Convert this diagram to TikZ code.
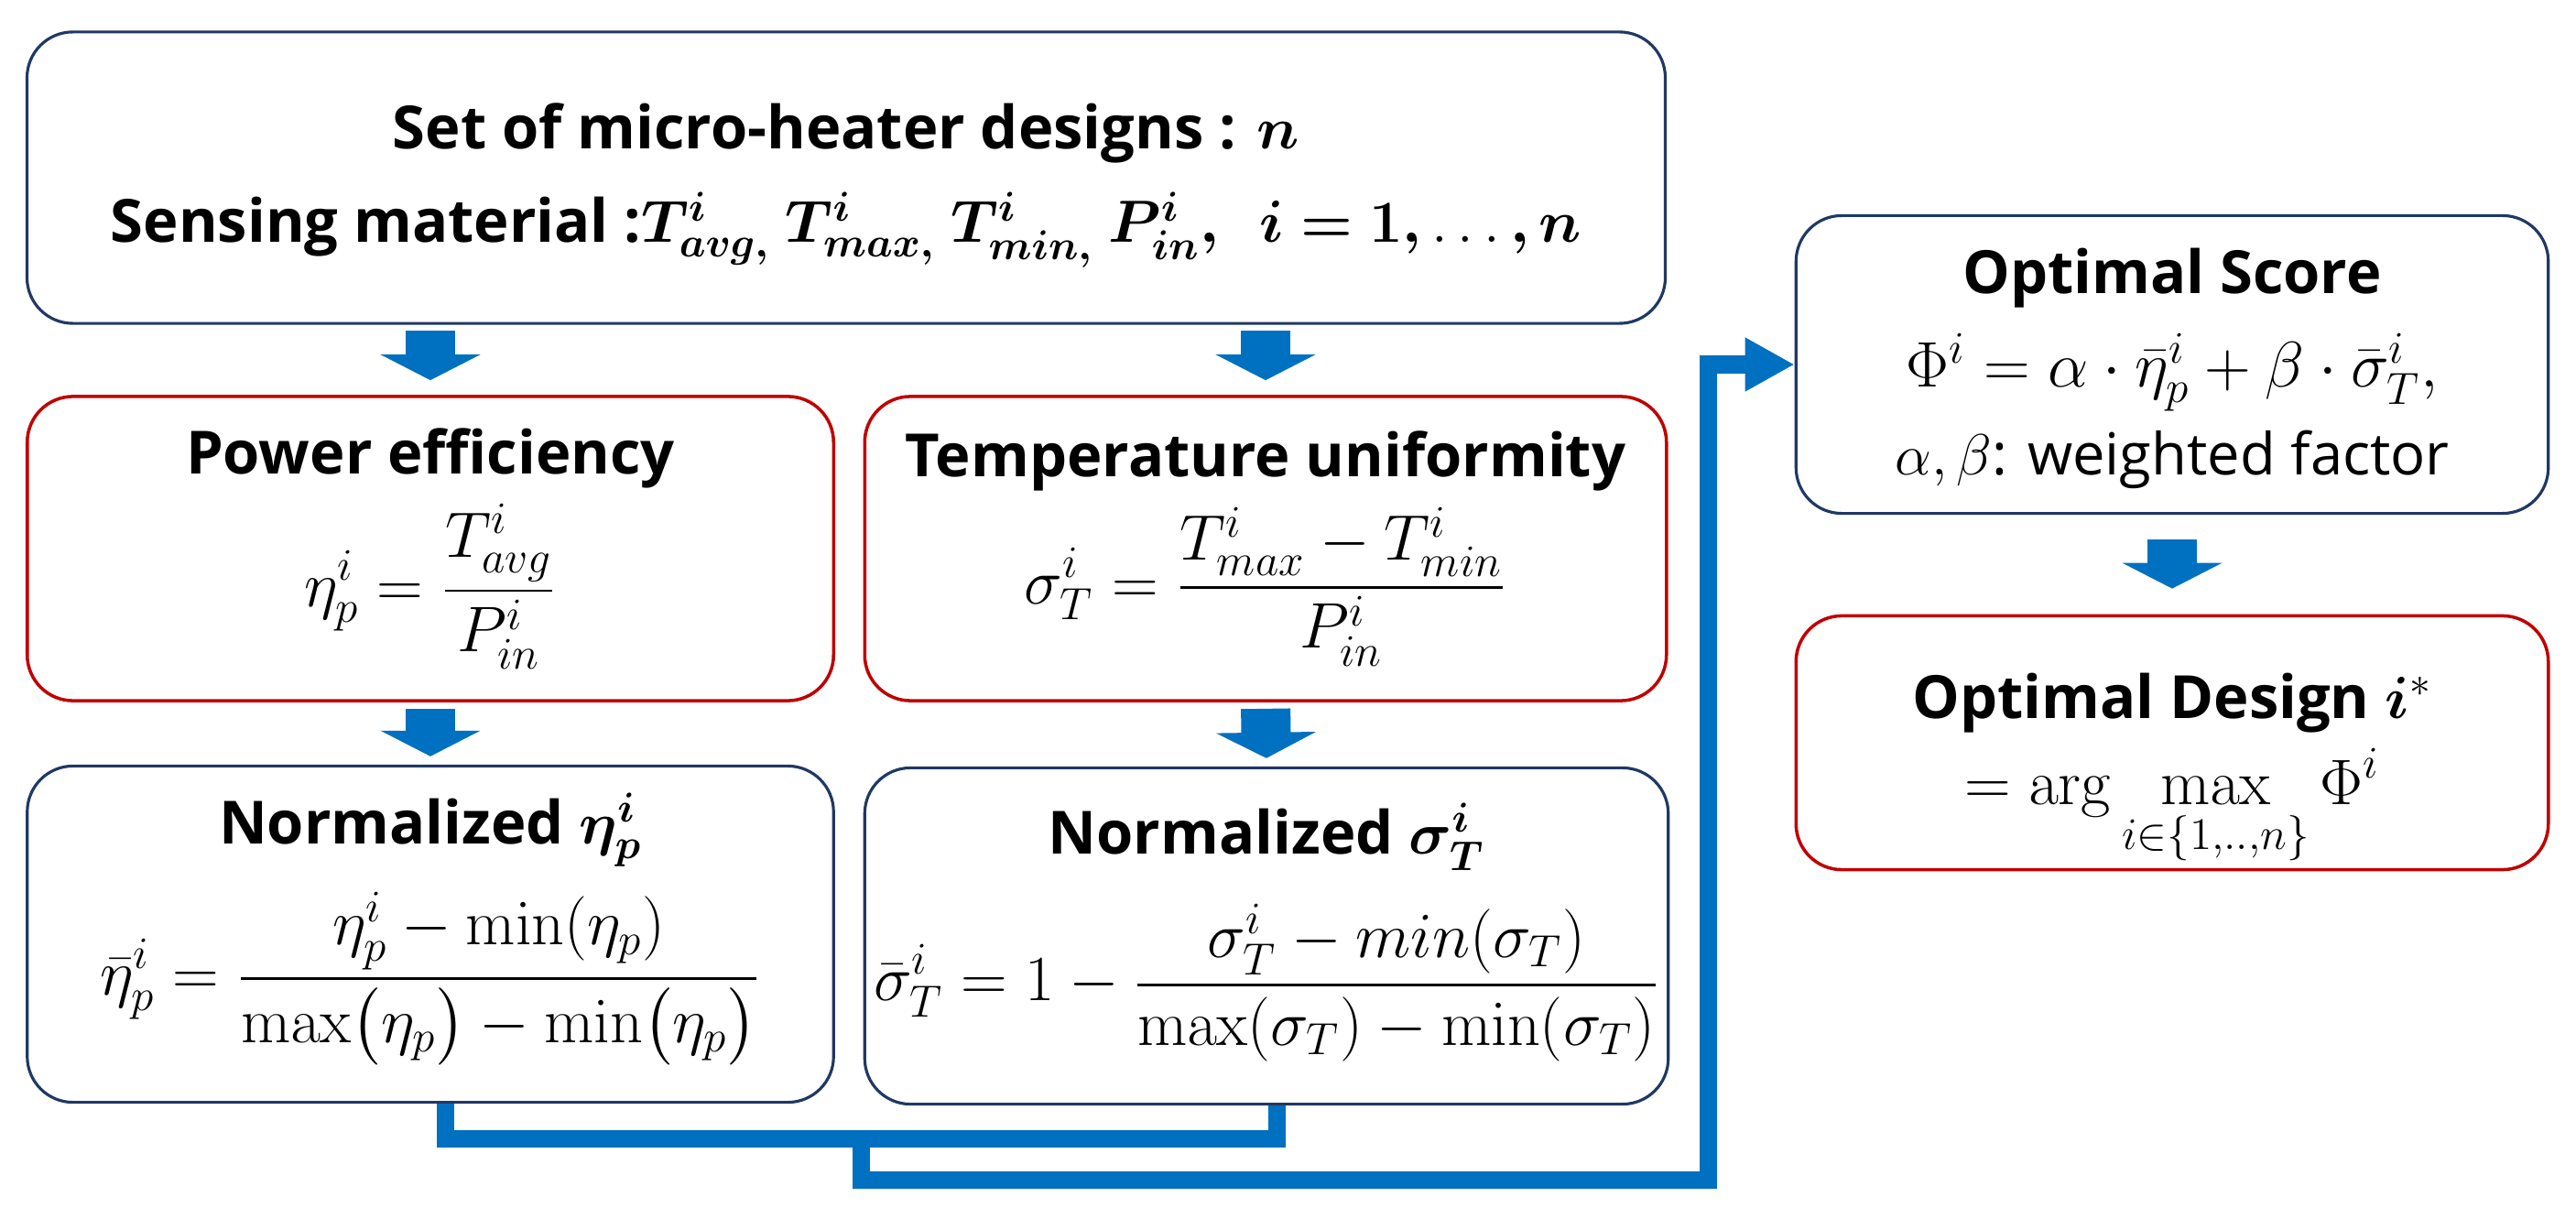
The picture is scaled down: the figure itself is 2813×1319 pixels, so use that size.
\RequirePackage{fix-cm}
\documentclass[tikz,border=0pt]{standalone}
\usepackage{amsmath,amssymb}
\usepackage{bm}
\usepackage[no-math]{fontspec}
\setmainfont{Open Sans}
\usepackage{tikz}
\usetikzlibrary{arrows.meta,positioning,calc}
\usepackage{xcolor}
\definecolor{boxnavy}{HTML}{203864}
\definecolor{boxred}{HTML}{C00000}
\definecolor{flowblue}{HTML}{0070C0}
\newcommand{\eqsize}{\fontsize{20}{24}\selectfont}

\begin{document}
\begin{tikzpicture}[x=0.01cm, y=-0.01cm,
  panel/.style={rounded corners=0.5cm, align=center, inner sep=0pt, font=\fontsize{18.5}{23}\selectfont},
  navybox/.style={panel, draw=boxnavy, line width=0.9pt},
  redbox/.style={panel, draw=boxred, line width=1pt},
  blockarrow/.style={draw=flowblue, line width=0.54cm, -{Triangle[width=1.08cm,length=0.28cm]}},
  feed/.style={draw=flowblue, line width=0.19cm},
]
  \useasboundingbox (0,0) rectangle (2813,1319);

  % Boxes
  \node[navybox, minimum width=17.88cm, minimum height=3.18cm] (top) at (924,194)
    {\rule{0pt}{19pt}\textbf{Set of micro-heater designs : $\bm{n}$}\\[6pt]
     \textbf{Sensing material :$\bm{T^{i}_{avg,}\ T^{i}_{max,}\ T^{i}_{min,}\ P^{i}_{in},\ \ i=1,}\ldots\bm{,n}$}};
  \node[redbox, minimum width=8.80cm, minimum height=3.32cm] (power) at (470,599)
    {\textbf{Power efficiency}\\[4pt]
     {\eqsize$\displaystyle \eta^{i}_{p}=\frac{T^{i}_{avg}}{P^{i}_{in}}$}};
  \node[redbox, minimum width=8.75cm, minimum height=3.32cm] (temp) at (1382,599)
    {\textbf{Temperature uniformity}\\[4pt]
     {\eqsize$\displaystyle \sigma^{i}_{T}=\frac{T^{i}_{max}-T^{i}_{min}}{P^{i}_{in}}$}};
  \node[navybox, minimum width=8.80cm, minimum height=3.67cm] (normp) at (470,1020)
    {\textbf{Normalized $\bm{\eta^{i}_{p}}$}\\[7pt]
     {\eqsize$\displaystyle \bar{\eta}^{i}_{p}=\frac{\eta^{i}_{p}-\min(\eta_{p})}{\max\bigl(\eta_{p}\bigr)-\min\bigl(\eta_{p}\bigr)}$}\rule[-25pt]{0pt}{0pt}};
  \node[navybox, minimum width=8.77cm, minimum height=3.67cm] (normt) at (1383,1022)
    {\textbf{Normalized $\bm{\sigma^{i}_{T}}$}\\[9.5pt]
     {\eqsize$\displaystyle \bar{\sigma}^{i}_{T}=1-\frac{\sigma^{i}_{T}-min(\sigma_{T})}{\max(\sigma_{T})-\min(\sigma_{T})}$}\rule[-21pt]{0pt}{0pt}};
  \node[navybox, minimum width=8.21cm, minimum height=3.25cm] (score) at (2372,398)
    {\rule{0pt}{16.5pt}\textbf{Optimal Score}\\[6pt]
     {\eqsize$\Phi^{i}=\alpha\cdot\bar{\eta}^{i}_{p}+\beta\cdot\bar{\sigma}^{i}_{T},$}\\[4.5pt]
     {\fontsize{18}{22}\selectfont$\alpha,\beta$: weighted factor}};
  \node[redbox, minimum width=8.21cm, minimum height=2.77cm] (design) at (2372,811)
    {\rule{0pt}{31pt}\textbf{Optimal Design $\bm{i}^{*}$}\\[4pt]
     {\eqsize$\displaystyle =\arg\max_{i\in\{1,..,n\}}\Phi^{i}$}};

  % Block arrows
  \draw[blockarrow, shorten <=0.06cm, shorten >=0.16cm] (top.south -| power.north) -- (power.north);
  \draw[blockarrow, shorten <=0.06cm, shorten >=0.16cm] (top.south -| temp.north) -- (temp.north);
  \draw[blockarrow, shorten <=0.07cm, shorten >=0.09cm] (power.south) -- (normp.north);
  \draw[blockarrow, shorten <=0.07cm, shorten >=0.09cm] (temp.south) -- (normt.north);
  \draw[blockarrow, shorten <=0.27cm, shorten >=0.28cm] (score.south) -- (design.north);

  % Feedback line
  \coordinate (join) at (940,1243);
  \coordinate (turn) at (1865,1288);
  \draw[feed] ([xshift=0.16cm]normp.south) |- (join) -| ([xshift=0.11cm]normt.south);
  \draw[feed, -{Triangle[width=0.55cm,length=0.54cm]}] (join) |- (turn) |- (score.west);
\end{tikzpicture}
\end{document}
